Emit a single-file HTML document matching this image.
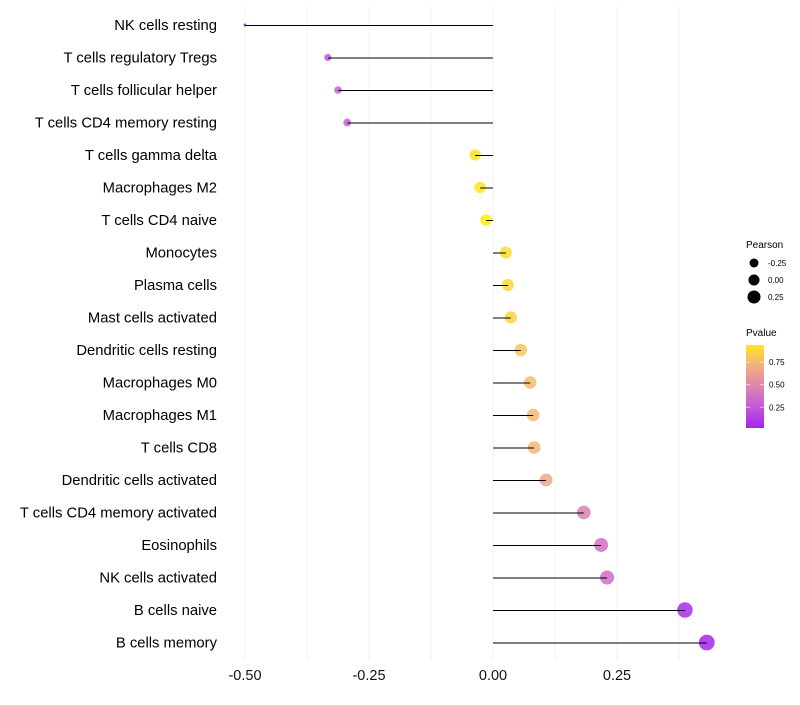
<!DOCTYPE html>
<html><head><meta charset="utf-8"><style>
body{margin:0;background:#fff;font-family:"Liberation Sans",sans-serif}
svg text{font-family:"Liberation Sans",sans-serif}
</style></head><body>
<svg id="chart" width="800" height="700">
<g id="grid"></g>
<g id="ylabels"></g>
<g id="xlabels"></g>
<g id="marks"></g>
<g id="legend">
<text x="746" y="248" font-size="10">Pearson</text>
<text x="746" y="336" font-size="10">Pvalue</text>
</g>
</svg>
<script>
const categories=["NK cells resting","T cells regulatory  Tregs","T cells follicular helper","T cells CD4 memory resting","T cells gamma delta","Macrophages M2","T cells CD4 naive","Monocytes","Plasma cells","Mast cells activated","Dendritic cells resting","Macrophages M0","Macrophages M1","T cells CD8","Dendritic cells activated","T cells CD4 memory activated","Eosinophils","NK cells activated","B cells naive","B cells memory"];
const pearson=[-0.50,-0.333,-0.3125,-0.294,-0.036,-0.026,-0.014,0.026,0.030,0.036,0.056,0.075,0.081,0.083,0.107,0.183,0.218,0.230,0.387,0.431];
const pvalue=[0.03,0.25,0.27,0.3,0.92,0.94,0.97,0.9,0.88,0.86,0.8,0.76,0.75,0.74,0.65,0.45,0.37,0.35,0.05,0.03];
const xTicks=[-0.5,-0.25,0,0.25];
const xTickLabels=["-0.50","-0.25","0.00","0.25"];
const xMinor=[-0.375,-0.125,0.125,0.375];
const sizeLegend=[-0.25,0,0.25];
const colorLegendTicks=[0.25,0.5,0.75];

const NS="http://www.w3.org/2000/svg";
const X=v=>493+v*496;
const Y=i=>25+i*32.5;
const pMin=Math.min(...pearson),pMax=Math.max(...pearson);
const R=v=>{const t=(v-pMin)/(pMax-pMin);return Math.sqrt(2.25+60*t);};
const stops=[[0,[160,32,240]],[0.3,[200,100,210]],[0.5,[225,135,170]],[0.75,[243,185,115]],[1,[255,245,0]]];
const C=p=>{p=Math.max(0,Math.min(1,p));for(let k=1;k<stops.length;k++){if(p<=stops[k][0]){const [p0,a]=stops[k-1],[p1,b]=stops[k];const f=(p-p0)/(p1-p0);return `rgb(${a.map((c,j)=>Math.round(c+(b[j]-c)*f)).join(",")})`;}}return "rgb(255,245,0)";};
const Ly=p=>428-(p-0.02)/0.92*83;
function mk(tag,attrs,parent,txt){const e=document.createElementNS(NS,tag);for(const k in attrs)e.setAttribute(k,attrs[k]);if(txt!=null)e.textContent=txt;document.getElementById(parent).appendChild(e);return e;}

xTicks.concat(xMinor).forEach(v=>{
 const l=mk("line",{x1:X(v),x2:X(v),y1:5,y2:660,stroke:"#f0f0f0","stroke-width":1},"grid");
 
 
});
xTicks.forEach((v,i)=>{
 const t=mk("text",{x:X(v),y:680,"font-size":14.5,"text-anchor":"middle",fill:"#111"},"xlabels",xTickLabels[i]);
 
 
});
categories.forEach((c,i)=>{
 const t=mk("text",{x:217,y:Y(i)+5,"font-size":14.8,"text-anchor":"end",fill:"#000"},"ylabels",c);
 
 
 const d=mk("circle",{cx:X(pearson[i]),cy:Y(i),r:R(pearson[i]),fill:C(pvalue[i]),"fill-opacity":0.85},"marks");
 
 
 const s=mk("line",{x1:X(0),x2:X(pearson[i]),y1:Y(i)+0.5,y2:Y(i)+0.5,stroke:"#000","stroke-width":1},"marks");
 
 
});
sizeLegend.forEach((v,i)=>{
 const y=263+i*17;
 const d=mk("circle",{cx:754,cy:y,r:4.5+i,fill:"#000"},"legend");
 
 
 const t=mk("text",{x:768,y:y+3,"font-size":8},"legend",v.toFixed(2));
 
 
});
const defs=mk("defs",{},"legend");
const g=document.createElementNS(NS,"linearGradient");g.setAttribute("id","pg");g.setAttribute("x1",0);g.setAttribute("y1",1);g.setAttribute("x2",0);g.setAttribute("y2",0);
for(let k=0;k<=10;k++){const p=0.02+k/10*0.92;const s=document.createElementNS(NS,"stop");s.setAttribute("offset",k/10);s.setAttribute("stop-color",C(p));g.appendChild(s);}
defs.appendChild(g);
const bar=mk("rect",{x:746,y:345,width:18,height:83,fill:"url(#pg)"},"legend");


colorLegendTicks.forEach(p=>{
 const y=Ly(p);
 mk("line",{x1:746,x2:750,y1:y,y2:y,stroke:"#fff","stroke-opacity":0.6},"legend");
 mk("line",{x1:760,x2:764,y1:y,y2:y,stroke:"#fff","stroke-opacity":0.6},"legend");
 const t=mk("text",{x:769,y:y+3,"font-size":8},"legend",p.toFixed(2));
 
 
});
</script>
</body></html>
